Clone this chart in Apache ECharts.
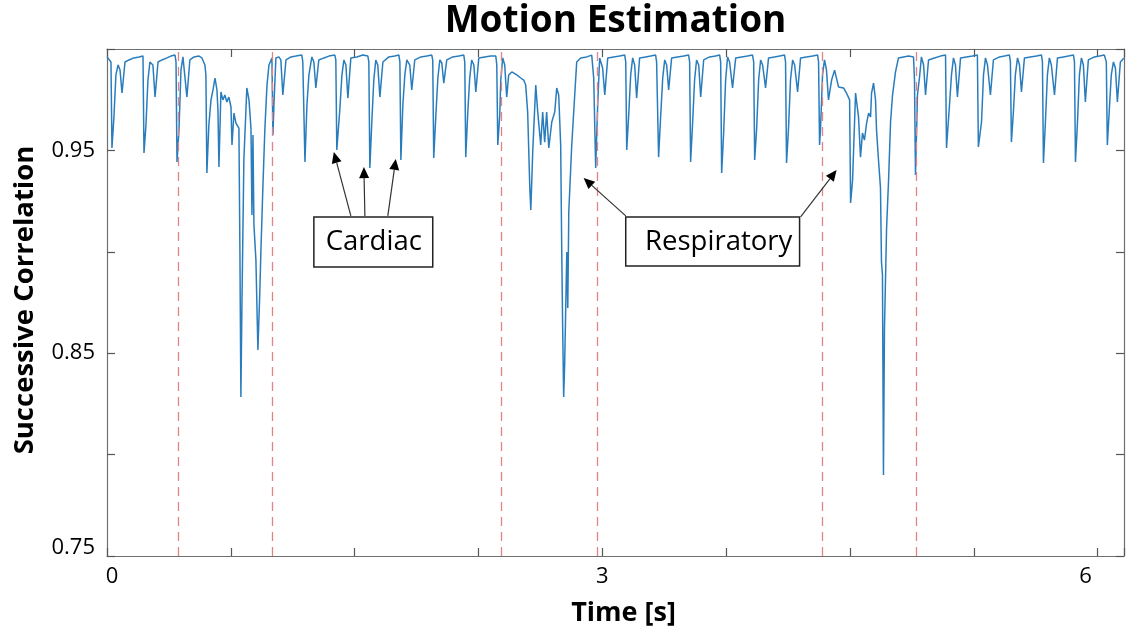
<!DOCTYPE html>
<html>
<head>
<meta charset="utf-8">
<script src="https://cdn.jsdelivr.net/npm/echarts@6/dist/echarts.min.js"></script>
<style>
  html, body { margin: 0; padding: 0; background: #fff; }
  #chart { width: 1127px; height: 634px; }
</style>
</head>
<body>
<div id="chart"></div>
<script>
// Successive frame-to-frame correlation over time (s)
const timeSec = [
  0.000, 0.012, 0.024, 0.030, 0.042, 0.054, 0.067, 0.079, 0.091, 0.109, 0.133, 0.163, 0.194, 0.218,
  0.224, 0.236, 0.248, 0.260, 0.278, 0.291, 0.309, 0.333, 0.363, 0.387, 0.412, 0.418,
  0.424, 0.436, 0.448, 0.460, 0.472, 0.484, 0.502, 0.527, 0.557, 0.575, 0.593, 0.599,
  0.605, 0.617, 0.630, 0.642, 0.654, 0.666, 0.672, 0.678, 0.690, 0.702, 0.714, 0.726, 0.738, 0.751,
  0.757, 0.769, 0.781, 0.793, 0.799, 0.805, 0.811, 0.817, 0.829, 0.847, 0.860, 0.872, 0.878, 0.884,
  0.890, 0.902, 0.914, 0.926, 0.932, 0.944, 0.956, 0.969, 0.981, 0.999, 1.005, 1.011, 1.023, 1.041,
  1.053, 1.065, 1.084, 1.114, 1.144, 1.180, 1.186,
  1.199, 1.211, 1.223, 1.241, 1.253, 1.265, 1.283, 1.314, 1.344, 1.380, 1.386,
  1.392, 1.410, 1.423, 1.435, 1.447, 1.459, 1.477, 1.513, 1.550, 1.580, 1.586,
  1.592, 1.604, 1.616, 1.628, 1.640, 1.653, 1.671, 1.707, 1.743, 1.768, 1.774,
  1.780, 1.792, 1.804, 1.816, 1.834, 1.846, 1.864, 1.901, 1.937, 1.967, 1.973,
  1.979, 1.992, 2.004, 2.016, 2.028, 2.040, 2.058, 2.094, 2.131, 2.161, 2.167,
  2.173, 2.185, 2.197, 2.209, 2.222, 2.234, 2.252, 2.288, 2.324, 2.355, 2.361,
  2.367, 2.379, 2.385, 2.397, 2.409, 2.421, 2.433, 2.452, 2.482, 2.506, 2.524, 2.536, 2.548,
  2.561, 2.567, 2.579, 2.597, 2.609, 2.627, 2.639, 2.651, 2.663, 2.676, 2.694, 2.712, 2.724, 2.736,
  2.748, 2.754, 2.760, 2.766, 2.772, 2.785, 2.791, 2.797, 2.815, 2.833, 2.845, 2.869, 2.906, 2.936,
  2.948, 2.960, 2.972, 2.984, 3.002, 3.015, 3.033, 3.069, 3.105, 3.136, 3.142,
  3.148, 3.160, 3.172, 3.184, 3.196, 3.208, 3.226, 3.263, 3.293, 3.323, 3.329,
  3.341, 3.354, 3.366, 3.378, 3.390, 3.402, 3.420, 3.456, 3.493, 3.523, 3.529,
  3.535, 3.547, 3.559, 3.571, 3.584, 3.596, 3.614, 3.650, 3.686, 3.711, 3.717,
  3.723, 3.735, 3.747, 3.759, 3.771, 3.789, 3.808, 3.844, 3.880, 3.910, 3.917,
  3.923, 3.935, 3.947, 3.959, 3.971, 3.989, 4.007, 4.044, 4.074, 4.104, 4.110,
  4.116, 4.128, 4.140, 4.153, 4.165, 4.183, 4.201, 4.237, 4.274, 4.304, 4.310,
  4.316, 4.322, 4.334, 4.346, 4.358, 4.370, 4.389, 4.407, 4.431, 4.461, 4.479, 4.498,
  4.504, 4.516, 4.534, 4.552, 4.564, 4.576, 4.588, 4.601, 4.613, 4.625, 4.631, 4.643, 4.655, 4.661,
  4.673, 4.685, 4.691, 4.697, 4.703, 4.709, 4.722, 4.734, 4.746, 4.758, 4.776, 4.794, 4.824, 4.855,
  4.885, 4.891, 4.897, 4.909, 4.921, 4.933, 4.946, 4.958, 4.976, 5.012, 5.048, 5.079,
  5.085, 5.103, 5.115, 5.127, 5.139, 5.151, 5.170, 5.206, 5.242, 5.272,
  5.278, 5.297, 5.309, 5.321, 5.333, 5.351, 5.369, 5.406, 5.436, 5.466, 5.472,
  5.478, 5.490, 5.502, 5.515, 5.527, 5.539, 5.557, 5.593, 5.630, 5.660, 5.666,
  5.672, 5.684, 5.696, 5.708, 5.720, 5.739, 5.757, 5.793, 5.823, 5.854, 5.860,
  5.866, 5.878, 5.890, 5.902, 5.914, 5.926, 5.944, 5.981, 6.011, 6.041, 6.053,
  6.059, 6.071, 6.083, 6.096, 6.108, 6.120, 6.138, 6.160
];
const corr = [
  0.9961, 0.9956, 0.9936, 0.9512, 0.9665, 0.9872, 0.9921, 0.9896, 0.9783, 0.9936, 0.9946, 0.9956, 0.9961, 0.9965,
  0.9487, 0.9625, 0.9847, 0.9936, 0.9921, 0.9763, 0.9936, 0.9946, 0.9956, 0.9965, 0.9970, 0.9936,
  0.9443, 0.9601, 0.9896, 0.9961, 0.9956, 0.9763, 0.9946, 0.9961, 0.9965, 0.9956, 0.9921, 0.9872,
  0.9389, 0.9625, 0.9749, 0.9798, 0.9857, 0.9798, 0.9699, 0.9418, 0.9788, 0.9749, 0.9773, 0.9739, 0.9763, 0.9714,
  0.9527, 0.9684, 0.9635, 0.9640, 0.9610, 0.9009, 0.8284, 0.8723, 0.9453, 0.9808, 0.9749, 0.9610, 0.9181, 0.9576,
  0.9132, 0.8960, 0.8516, 0.8812, 0.8999, 0.9315, 0.9601, 0.9822, 0.9921, 0.9956, 0.9576, 0.9724, 0.9956, 0.9961,
  0.9946, 0.9773, 0.9946, 0.9961, 0.9965, 0.9970, 0.9936,
  0.9443, 0.9724, 0.9872, 0.9961, 0.9936, 0.9808, 0.9946, 0.9956, 0.9965, 0.9970, 0.9946,
  0.9502, 0.9699, 0.9872, 0.9946, 0.9921, 0.9758, 0.9956, 0.9961, 0.9970, 0.9965, 0.9936,
  0.9413, 0.9640, 0.9847, 0.9946, 0.9921, 0.9763, 0.9936, 0.9961, 0.9965, 0.9970, 0.9936,
  0.9453, 0.9724, 0.9872, 0.9946, 0.9921, 0.9798, 0.9946, 0.9961, 0.9965, 0.9970, 0.9946,
  0.9463, 0.9675, 0.9857, 0.9946, 0.9931, 0.9832, 0.9946, 0.9961, 0.9965, 0.9970, 0.9936,
  0.9467, 0.9684, 0.9857, 0.9946, 0.9921, 0.9788, 0.9956, 0.9961, 0.9965, 0.9965, 0.9921,
  0.9527, 0.9675, 0.9847, 0.9956, 0.9921, 0.9763, 0.9872, 0.9887, 0.9872, 0.9857, 0.9847, 0.9822, 0.9689,
  0.9315, 0.9206, 0.9502, 0.9822, 0.9689, 0.9527, 0.9689, 0.9541, 0.9689, 0.9512, 0.9640, 0.9689, 0.9808, 0.9773,
  0.9527, 0.9034, 0.8624, 0.8284, 0.8442, 0.8999, 0.8723, 0.9196, 0.9527, 0.9773, 0.9936, 0.9956, 0.9961, 0.9970,
  0.9857, 0.9413, 0.9724, 0.9956, 0.9906, 0.9773, 0.9956, 0.9961, 0.9965, 0.9970, 0.9936,
  0.9502, 0.9675, 0.9872, 0.9956, 0.9921, 0.9758, 0.9956, 0.9961, 0.9965, 0.9970, 0.9936,
  0.9467, 0.9675, 0.9857, 0.9946, 0.9921, 0.9798, 0.9956, 0.9961, 0.9965, 0.9970, 0.9936,
  0.9443, 0.9635, 0.9847, 0.9946, 0.9921, 0.9763, 0.9946, 0.9961, 0.9965, 0.9970, 0.9936,
  0.9389, 0.9586, 0.9847, 0.9961, 0.9936, 0.9808, 0.9956, 0.9961, 0.9965, 0.9970, 0.9936,
  0.9453, 0.9610, 0.9847, 0.9946, 0.9921, 0.9808, 0.9956, 0.9961, 0.9965, 0.9970, 0.9936,
  0.9438, 0.9610, 0.9847, 0.9946, 0.9921, 0.9788, 0.9956, 0.9961, 0.9965, 0.9970, 0.9936,
  0.9527, 0.9610, 0.9872, 0.9946, 0.9896, 0.9749, 0.9847, 0.9896, 0.9813, 0.9808, 0.9783, 0.9749,
  0.9241, 0.9354, 0.9783, 0.9665, 0.9467, 0.9586, 0.9551, 0.9635, 0.9684, 0.9665, 0.9783, 0.9832, 0.9749, 0.9601,
  0.9453, 0.9315, 0.8950, 0.8886, 0.7899, 0.8614, 0.9117, 0.9354, 0.9640, 0.9773, 0.9887, 0.9956, 0.9961, 0.9965,
  0.9961, 0.9847, 0.9379, 0.9773, 0.9857, 0.9961, 0.9921, 0.9773, 0.9946, 0.9956, 0.9965, 0.9970,
  0.9512, 0.9724, 0.9872, 0.9956, 0.9921, 0.9763, 0.9956, 0.9961, 0.9965, 0.9970,
  0.9517, 0.9640, 0.9872, 0.9956, 0.9921, 0.9773, 0.9946, 0.9961, 0.9965, 0.9970, 0.9936,
  0.9541, 0.9689, 0.9872, 0.9956, 0.9921, 0.9788, 0.9956, 0.9961, 0.9965, 0.9970, 0.9936,
  0.9438, 0.9640, 0.9872, 0.9956, 0.9921, 0.9773, 0.9956, 0.9961, 0.9965, 0.9970, 0.9936,
  0.9443, 0.9635, 0.9872, 0.9956, 0.9921, 0.9739, 0.9946, 0.9961, 0.9965, 0.9970, 0.9936,
  0.9527, 0.9699, 0.9872, 0.9936, 0.9906, 0.9739, 0.9936, 0.9956
];

// Breathing-event boundaries (s)
const breathMarks = [0.430, 1.005, 2.391, 2.966, 4.328, 4.897];

// Labelled tick values
const xLabelTicks = [0, 3, 6];
const yLabelTicks = [0.75, 0.85, 0.95];

// Callouts, anchored in data units [t, corr]
const callouts = [
  { text: 'Cardiac', box: [[1.253, 0.9172], [1.973, 0.8925]], textAt: [1.616, 0.9048],
    arrows: [[[1.477, 0.9177], [1.374, 0.9492]],
             [[1.562, 0.9177], [1.556, 0.9418]],
             [[1.701, 0.9177], [1.749, 0.9458]]] },
  { text: 'Respiratory', box: [[3.142, 0.9172], [4.195, 0.8930]], textAt: [3.705, 0.9048],
    arrows: [[[3.142, 0.9177], [2.887, 0.9364]],
             [[4.201, 0.9172], [4.419, 0.9403]]] }
];

const FONT = '"Open Sans", Lato, sans-serif';
const AXIS_COLOR = '#707070';

const chart = echarts.init(document.getElementById('chart'), null, { renderer: 'canvas' });

const seriesData = timeSec.map((t, i) => [t, corr[i]]);

function sameTick(v, list) {
  return list.some(s => Math.abs(s - v) < 1e-6);
}

const xBase = {
  type: 'value', min: 0, max: 6.16, interval: 0.75,
  axisLine: { show: true, onZero: false, lineStyle: { color: AXIS_COLOR, width: 1.2 } },
  axisTick: { show: true, inside: true, length: 8, lineStyle: { color: '#555', width: 1.2 } },
  splitLine: { show: false }
};
const yBase = {
  type: 'value', min: 0.75, max: 1.0, interval: 0.05,
  axisLine: { show: true, onZero: false, lineStyle: { color: AXIS_COLOR, width: 1.2 } },
  axisTick: { show: true, inside: true, length: 8, lineStyle: { color: '#555', width: 1.2 } },
  splitLine: { show: false }
};

chart.setOption({
  animation: false,
  backgroundColor: '#ffffff',
  grid: { left: 107, top: 49, right: 1, bottom: 78, containLabel: false },
  xAxis: [
    Object.assign({}, xBase, {
      position: 'bottom',
      axisLabel: {
        show: true, margin: 10, color: '#000', fontSize: 22, fontFamily: FONT,
        formatter: function (v) {
          if (!sameTick(v, xLabelTicks)) return '';
          if (Math.abs(v) < 1e-6) return '{first|0}';
          if (Math.abs(v - 6) < 1e-6) return '{last|6}';
          return String(Math.round(v));
        },
        rich: {
          first: { fontSize: 22, fontFamily: FONT, color: '#000', padding: [0, 0, 0, 10] },
          last: { fontSize: 22, fontFamily: FONT, color: '#000', padding: [0, 24, 0, 0] }
        }
      }
    }),
    Object.assign({}, xBase, { position: 'top', axisLabel: { show: false } })
  ],
  yAxis: [
    Object.assign({}, yBase, {
      position: 'left',
      axisLabel: {
        show: true, margin: 12, color: '#000', fontSize: 22, fontFamily: FONT,
        formatter: function (v) {
          if (!sameTick(v, yLabelTicks)) return '';
          if (Math.abs(v - 0.75) < 1e-6) return '{low|0.75}';
          return v.toFixed(2);
        },
        rich: {
          low: { fontSize: 22, fontFamily: FONT, color: '#000', padding: [0, 0, 16, 0] }
        }
      }
    }),
    Object.assign({}, yBase, { position: 'right', axisLabel: { show: false } })
  ],
  series: [{
    type: 'line',
    xAxisIndex: 0,
    yAxisIndex: 0,
    data: seriesData,
    showSymbol: false,
    symbol: 'none',
    lineStyle: { color: '#2a7dbd', width: 1.5 },
    clip: true,
    markLine: {
      silent: true,
      symbol: ['none', 'none'],
      label: { show: false },
      lineStyle: { color: '#e08585', type: [9, 6], width: 1.3 },
      data: breathMarks.map(t => ({ xAxis: t }))
    }
  }]
});

// Titles, axis names and callouts
function px(p) { return chart.convertToPixel({ xAxisIndex: 0, yAxisIndex: 0 }, p); }

const gridRect = { x0: px([0, 1])[0], y0: px([0, 1])[1], x1: px([6.16, 0.75])[0], y1: px([6.16, 0.75])[1] };
const plotMidX = (gridRect.x0 + gridRect.x1) / 2;

const elements = [
  { type: 'text', x: plotMidX, y: 21, style: { text: 'Motion Estimation', font: 'bold 37px ' + FONT, fill: '#000', textAlign: 'center', textVerticalAlign: 'middle' } },
  { type: 'text', x: plotMidX + 8, y: 613, style: { text: 'Time [s]', font: 'bold 27px ' + FONT, fill: '#000', textAlign: 'center', textVerticalAlign: 'middle' } },
  { type: 'text', x: 25, y: 300, rotation: Math.PI / 2, style: { text: 'Successive Correlation', font: 'bold 27.5px ' + FONT, fill: '#000', textAlign: 'center', textVerticalAlign: 'middle' } }
];

callouts.forEach(c => {
  const a = px(c.box[0]), b = px(c.box[1]);
  elements.push({
    type: 'rect',
    shape: { x: a[0], y: a[1], width: b[0] - a[0], height: b[1] - a[1] },
    style: { fill: '#fff', stroke: '#222', lineWidth: 1.5 }, z: 10
  });
  const tp = px(c.textAt);
  elements.push({
    type: 'text', x: tp[0], y: tp[1], z: 11,
    style: { text: c.text, font: '27.5px ' + FONT, fill: '#000', textAlign: 'center', textVerticalAlign: 'middle' }
  });
  c.arrows.forEach(ar => {
    const s = px(ar[0]), e = px(ar[1]);
    const dx = e[0] - s[0], dy = e[1] - s[1];
    const len = Math.sqrt(dx * dx + dy * dy);
    const ux = dx / len, uy = dy / len;
    const head = 11, half = 5;
    const bx = e[0] - ux * head, by = e[1] - uy * head;
    elements.push({
      type: 'line', z: 9,
      shape: { x1: s[0], y1: s[1], x2: bx, y2: by },
      style: { stroke: '#333', lineWidth: 1.2 }
    });
    elements.push({
      type: 'polygon', z: 9,
      shape: { points: [[e[0], e[1]], [bx - uy * half, by + ux * half], [bx + uy * half, by - ux * half]] },
      style: { fill: '#000' }
    });
  });
});

chart.setOption({ graphic: { elements: elements } });
</script>
</body>
</html>
